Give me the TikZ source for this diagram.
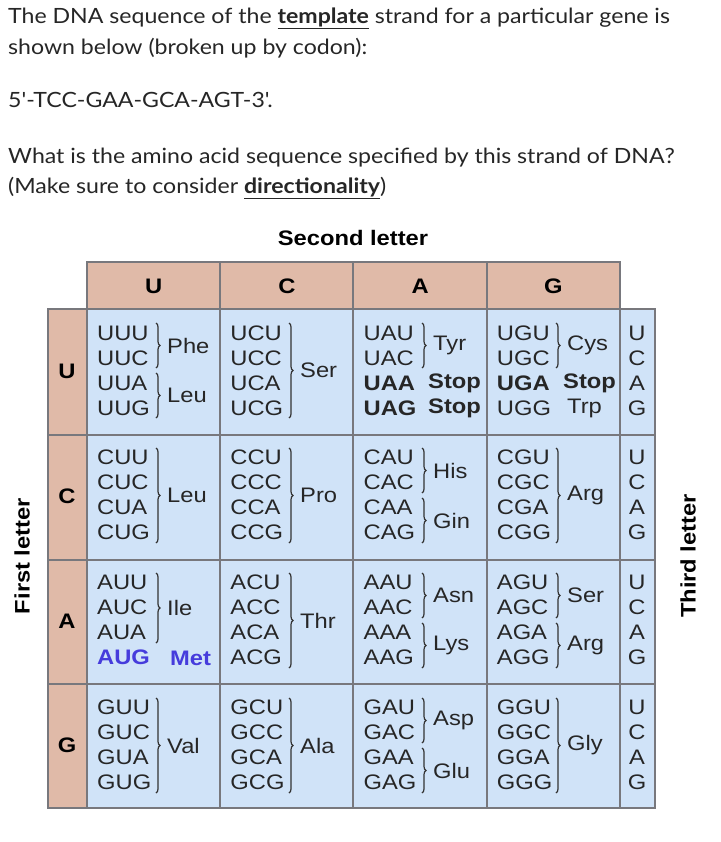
\documentclass[tikz,border=0pt]{standalone}
\usepackage{fontspec}
\setmainfont[FakeStretch=1.13]{Liberation Sans}
\newfontfamily\latof[FakeStretch=1.1]{Lato}
\usetikzlibrary{decorations.pathreplacing}
\definecolor{peach}{RGB}{224,186,168}
\definecolor{cellb}{RGB}{208,227,248}
\definecolor{gridc}{RGB}{120,120,125}
\definecolor{metb}{RGB}{70,60,220}
\newcommand\cbr[4]{\draw[brc] (#1+3,#2) -- (#1+3,#3); \node[lab] at (#1+14,{(#2+#3)/2}) {#4};}
\begin{document}
\begin{tikzpicture}[x=1pt,y=-1pt,
  cod/.style={anchor=west,inner sep=0pt,font=\fontsize{21}{22}\selectfont,text=black!85},
  bcod/.style={cod,font=\bfseries\fontsize{21}{22}\selectfont},
  lab/.style={anchor=west,inner sep=0pt,font=\fontsize{21}{22}\selectfont,text=black!85},
  brc/.style={decorate,decoration={brace,amplitude=4pt},line width=1.2pt,black!80},
  ttl/.style={anchor=west,inner sep=0pt,font=\latof\fontsize{21}{22}\selectfont,text=black!85},
  hd/.style={inner sep=0pt,font=\bfseries\fontsize{21}{22}\selectfont}]
\useasboundingbox[fill=white] (0,0) rectangle (720,842);
\node[ttl] (t1) at (8,18) {The DNA sequence of the \underline{\textbf{template}} strand for a particular gene is};
\node[ttl] (t2) at (8,48) {shown below (broken up by codon):};
\node[ttl] (t3) at (8,100) {5'-TCC-GAA-GCA-AGT-3'.};
\node[ttl] (t4) at (8,158) {What is the amino acid sequence specified by this strand of DNA?};
\node[ttl] (t5) at (8,188) {(Make sure to consider \underline{\textbf{directionality}})};
\fill[peach] (87,262) rectangle (620,309);
\fill[peach] (48,309) rectangle (87,808);
\fill[cellb] (87,309) rectangle (655,808);
\draw[gridc,line width=1.3pt] (87,262) rectangle (620,309);
\draw[gridc,line width=1.3pt] (48,309) rectangle (655,808);
\foreach \x in {220,353,487} \draw[gridc,line width=1.3pt] (\x,262) -- (\x,808);
\foreach \x in {87,620} \draw[gridc,line width=1.3pt] (\x,309) -- (\x,808);
\foreach \y in {435,560,684} \draw[gridc,line width=1.3pt] (48,\y) -- (655,\y);
\node[hd] (sl) at (353,238) {Second letter};
\node[hd,rotate=90] (fl) at (22,556) {First letter};
\node[hd,rotate=90] (tl) at (688,556) {Third letter};
\foreach \l [count=\i] in {U,C,A,G} {
  \node[hd] at ({87+(\i-0.5)*133.25},286) {\l};
  \node[hd] at (67,{309+(\i-0.5)*124.75}) {\l};
  \foreach \t [count=\j] in {U,C,A,G}
    \node[inner sep=0pt,font=\fontsize{21}{22}\selectfont,text=black!85] at (637,{309+(\i-1)*124.75+24+(\j-1)*25}) {\t};
}
\foreach \f [count=\r] in {U,C,A,G}
 \foreach \s [count=\c] in {U,C,A,G}
  \foreach \t [count=\k] in {U,C,A,G}
  {\pgfmathsetmacro\yy{309+(\r-1)*124.75+24+(\k-1)*25}
   \pgfmathsetmacro\xx{87+(\c-1)*133.25+10}
   \edef\tmp{\f\s\t}
   \def\UAA{UAA}\def\UAG{UAG}\def\UGA{UGA}\def\AUG{AUG}
   \ifx\tmp\UAA \node[bcod] at (\xx,\yy) {\tmp};
   \else\ifx\tmp\UAG \node[bcod] at (\xx,\yy) {\tmp};
   \else\ifx\tmp\UGA \node[bcod] at (\xx,\yy) {\tmp};
   \else\ifx\tmp\AUG \node[bcod,text=metb] at (\xx,\yy) {\tmp};
   \else \node[cod] at (\xx,\yy) {\tmp};
   \fi\fi\fi\fi}
% row U
\cbr{153}{323}{368}{Phe}
\cbr{153}{373}{418}{Leu}
\cbr{286}{323}{418}{Ser}
\cbr{419}{323}{368}{Tyr}
\node[bcod] at (428,383) {Stop};
\node[bcod] at (428,408) {Stop};
\cbr{553}{323}{368}{Cys}
\node[bcod] at (563,383) {Stop};
\node[cod] at (567,408) {Trp};
% row C
\cbr{153}{448}{543}{Leu}
\cbr{286}{448}{543}{Pro}
\cbr{419}{448}{493}{His}
\cbr{419}{498}{543}{Gin}
\cbr{553}{448}{543}{Arg}
% row A
\cbr{153}{573}{643}{Ile}
\node[bcod,text=metb] at (170,658) {Met};
\cbr{286}{573}{668}{Thr}
\cbr{419}{573}{618}{Asn}
\cbr{419}{623}{668}{Lys}
\cbr{553}{573}{618}{Ser}
\cbr{553}{623}{668}{Arg}
% row G
\cbr{153}{698}{793}{Val}
\cbr{286}{698}{793}{Ala}
\cbr{419}{698}{743}{Asp}
\cbr{419}{748}{793}{Glu}
\cbr{553}{698}{793}{Gly}
\end{tikzpicture}
\end{document}
